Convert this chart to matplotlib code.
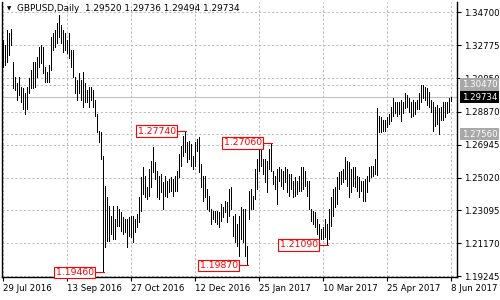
import matplotlib
matplotlib.use("Agg")
import matplotlib.pyplot as plt
import matplotlib.transforms as mtransforms
import pandas as pd

# GBPUSD daily bars, high / low (29 Jul 2016 .. 8 Jun 2017)
highs = [
    1.3309, 1.3280, 1.3367, 1.3350, 1.3373, 1.3181, 1.3093, 1.3058, 1.3093, 1.3035,
    1.3029, 1.3000, 1.3035, 1.3087, 1.3134, 1.3181, 1.3181, 1.3210, 1.3268, 1.3280,
    1.3268, 1.3151, 1.3122, 1.3163, 1.3326, 1.3350, 1.3367, 1.3408, 1.3455, 1.3396,
    1.3367, 1.3350, 1.3309, 1.3350, 1.3250, 1.3250, 1.3093, 1.3076, 1.3116, 1.3076,
    1.3122, 1.3058, 1.3017, 1.3035, 1.3035, 1.3017, 1.2959, 1.2872, 1.2772, 1.2767,
    1.2627, 1.2452, 1.2388, 1.2335, 1.2277, 1.2335, 1.2259, 1.2335, 1.2318, 1.2300,
    1.2271, 1.2259, 1.2259, 1.2271, 1.2277, 1.2277, 1.2259, 1.2289, 1.2388, 1.2504,
    1.2563, 1.2510, 1.2446, 1.2551, 1.2598, 1.2679, 1.2592, 1.2539, 1.2510, 1.2522,
    1.2475, 1.2510, 1.2481, 1.2493, 1.2504, 1.2493, 1.2510, 1.2539, 1.2638, 1.2685,
    1.2743, 1.2774, 1.2708, 1.2714, 1.2697, 1.2627, 1.2708, 1.2726, 1.2738, 1.2580,
    1.2510, 1.2510, 1.2434, 1.2394, 1.2318, 1.2306, 1.2306, 1.2306, 1.2300, 1.2347,
    1.2329, 1.2364, 1.2359, 1.2434, 1.2446, 1.2277, 1.2289, 1.2230, 1.2277, 1.2329,
    1.2318, 1.2318, 1.2102, 1.2423, 1.2434, 1.2394, 1.2551, 1.2609, 1.2697, 1.2685,
    1.2609, 1.2609, 1.2598, 1.2668, 1.2706, 1.2539, 1.2510, 1.2551, 1.2563, 1.2551,
    1.2539, 1.2563, 1.2551, 1.2522, 1.2522, 1.2481, 1.2504, 1.2481, 1.2510, 1.2563,
    1.2563, 1.2539, 1.2481, 1.2481, 1.2318, 1.2306, 1.2300, 1.2259, 1.2230, 1.2201,
    1.2213, 1.2259, 1.2230, 1.2318, 1.2388, 1.2434, 1.2446, 1.2504, 1.2533, 1.2539,
    1.2551, 1.2621, 1.2598, 1.2592, 1.2551, 1.2563, 1.2563, 1.2510, 1.2504, 1.2481,
    1.2481, 1.2493, 1.2510, 1.2563, 1.2568, 1.2568, 1.2609, 1.2912, 1.2860, 1.2854,
    1.2842, 1.2842, 1.2854, 1.2872, 1.2918, 1.2971, 1.2947, 1.2942, 1.2947, 1.2959,
    1.2942, 1.3000, 1.2988, 1.2971, 1.2947, 1.2959, 1.2942, 1.2959, 1.3000, 1.3046,
    1.3047, 1.3035, 1.3029, 1.3006, 1.2959, 1.2947, 1.2918, 1.2930, 1.2912, 1.2918,
    1.2942, 1.2947, 1.2947, 1.2971, 1.29736,
]
lows = [
    1.3151, 1.3163, 1.3181, 1.3221, 1.3280, 1.3029, 1.3017, 1.2959, 1.2988, 1.2942,
    1.2901, 1.2872, 1.2901, 1.3000, 1.3029, 1.3029, 1.3035, 1.3093, 1.3151, 1.3175,
    1.3116, 1.3064, 1.3064, 1.3064, 1.3134, 1.3250, 1.3268, 1.3291, 1.3326, 1.3291,
    1.3239, 1.3250, 1.3233, 1.3204, 1.3151, 1.3093, 1.3000, 1.2959, 1.3000, 1.2959,
    1.2918, 1.2942, 1.2947, 1.2918, 1.2959, 1.2918, 1.2860, 1.2767, 1.2708, 1.2609,
    1.1946, 1.2096, 1.2131, 1.2131, 1.2172, 1.2143, 1.2143, 1.2219, 1.2219, 1.2189,
    1.2172, 1.2184, 1.2096, 1.2160, 1.2154, 1.2125, 1.2184, 1.2213, 1.2242, 1.2306,
    1.2405, 1.2388, 1.2376, 1.2394, 1.2446, 1.2533, 1.2493, 1.2388, 1.2376, 1.2417,
    1.2318, 1.2394, 1.2388, 1.2417, 1.2423, 1.2394, 1.2423, 1.2423, 1.2504, 1.2568,
    1.2627, 1.2650, 1.2592, 1.2609, 1.2568, 1.2551, 1.2568, 1.2656, 1.2533, 1.2446,
    1.2364, 1.2388, 1.2318, 1.2306, 1.2230, 1.2259, 1.2242, 1.2230, 1.2213, 1.2248,
    1.2271, 1.2300, 1.2242, 1.2277, 1.2318, 1.2160, 1.2125, 1.2102, 1.2044, 1.2143,
    1.2125, 1.2044, 1.1987, 1.2259, 1.2318, 1.2318, 1.2376, 1.2434, 1.2539, 1.2568,
    1.2522, 1.2475, 1.2417, 1.2551, 1.2539, 1.2463, 1.2434, 1.2347, 1.2481, 1.2452,
    1.2434, 1.2475, 1.2417, 1.2394, 1.2434, 1.2388, 1.2394, 1.2405, 1.2423, 1.2423,
    1.2434, 1.2452, 1.2394, 1.2318, 1.2248, 1.2230, 1.2213, 1.2172, 1.2143, 1.2143,
    1.2143, 1.2154, 1.2109, 1.2143, 1.2219, 1.2277, 1.2329, 1.2347, 1.2434, 1.2463,
    1.2475, 1.2493, 1.2452, 1.2388, 1.2417, 1.2452, 1.2446, 1.2423, 1.2388, 1.2423,
    1.2364, 1.2364, 1.2417, 1.2481, 1.2504, 1.2510, 1.2522, 1.2516, 1.2767, 1.2767,
    1.2772, 1.2772, 1.2796, 1.2813, 1.2831, 1.2860, 1.2883, 1.2860, 1.2872, 1.2831,
    1.2883, 1.2912, 1.2918, 1.2889, 1.2854, 1.2860, 1.2872, 1.2901, 1.2901, 1.2942,
    1.2971, 1.2959, 1.2930, 1.2918, 1.2889, 1.2772, 1.2802, 1.2813, 1.2756, 1.2842,
    1.2842, 1.2854, 1.2883, 1.2889, 1.29494,
]

symbol = "GBPUSD,Daily"
last_ohlc = [1.29520, 1.29736, 1.29494, 1.29734]

price_ticks = [1.34700, 1.32775, 1.30850, 1.28870, 1.26945, 1.25020, 1.23095, 1.21170, 1.19245]
date_labels = ["29 Jul 2016", "13 Sep 2016", "27 Oct 2016", "12 Dec 2016",
               "25 Jan 2017", "10 Mar 2017", "25 Apr 2017", "8 Jun 2017"]

# swing points marked on the chart: (bar index, price)
swing_marks = [(50, 1.19460), (91, 1.27740), (122, 1.19870), (134, 1.27060), (162, 1.21090)]
level_lines = [1.30470, 1.27560]

dates = pd.bdate_range("2016-07-29", periods=len(highs))
x = list(range(len(dates)))
label_pos = [x[i] for i in range(0, len(dates), 32)]

fig = plt.figure(figsize=(5, 3), dpi=100)
ax = fig.add_axes([0.004, 0.077, 0.91, 0.916])

grid_col = "#b8b8b8"
dash = (0, (2.2, 2.2))
for t in price_ticks:
    ax.axhline(t, color=grid_col, lw=0.7, ls=dash, zorder=0)
for p in label_pos:
    ax.axvline(p, color=grid_col, lw=0.7, ls=dash, zorder=0)
for lv in level_lines:
    ax.axhline(lv, color=grid_col, lw=0.7, ls=dash, zorder=0)
ax.axhline(last_ohlc[3], color="#c0c0c0", lw=0.8, zorder=0)

ax.vlines(x, lows, highs, color="black", lw=0.5, antialiased=False, zorder=2)

for i, price in swing_marks:
    ax.plot([i - 4.5, i + 0.5], [price, price], color="red", lw=0.8, zorder=3)
    ax.text(i - 4.5, price, f"{price:.5f}", color="red", fontsize=6.7,
            ha="right", va="center", zorder=4,
            bbox=dict(facecolor="white", edgecolor="red", lw=0.8, pad=1.0))

ax.set_xlim(-0.5, 227)
ax.set_ylim(1.1920, 1.3530)

ax.yaxis.tick_right()
ax.set_yticks(price_ticks)
ax.set_yticklabels([f"{t:.5f}" for t in price_ticks])
ax.set_xticks(label_pos)
ax.set_xticklabels(date_labels, ha="left")
ax.tick_params(axis="y", length=3, width=0.8, pad=2, labelsize=6.2, colors="black")
ax.tick_params(axis="x", length=3, width=0.8, pad=2, labelsize=6.2)
ax.spines["top"].set_visible(False)
for s in ["left", "right", "bottom"]:
    ax.spines[s].set_linewidth(1.0)

# price boxes on the right scale
trans = mtransforms.blended_transform_factory(ax.transAxes, ax.transData)
for lv in level_lines:
    ax.text(1.01, lv, f"{lv:.5f}", transform=trans, fontsize=6.2, color="white",
            ha="left", va="center", zorder=10, clip_on=False,
            bbox=dict(facecolor="#a8a8a8", edgecolor="none", pad=1.2))
ax.text(1.01, last_ohlc[3], f"{last_ohlc[3]:.5f}", transform=trans, fontsize=6.2,
        color="white", ha="left", va="center", zorder=10, clip_on=False,
        bbox=dict(facecolor="black", edgecolor="none", pad=1.2))

title = symbol + "  " + " ".join(f"{v:.5f}" for v in last_ohlc)
ax.text(0.012, 0.975, "\u25bc", transform=ax.transAxes, fontsize=4, va="center", ha="left")
ax.text(0.033, 0.975, title, transform=ax.transAxes, fontsize=6.4, va="center", ha="left")

fig.savefig("out.png", dpi=100)
